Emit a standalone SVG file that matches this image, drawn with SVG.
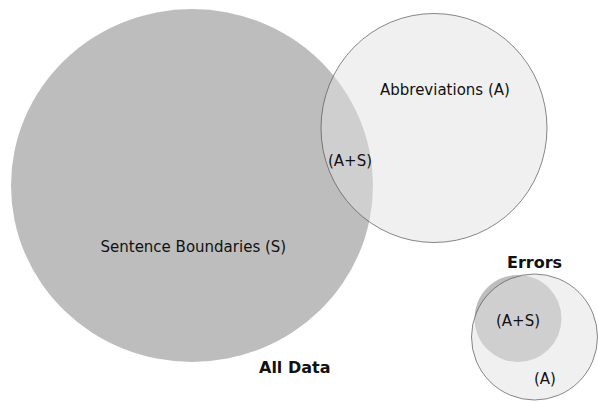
<svg xmlns="http://www.w3.org/2000/svg" width="598" height="402" viewBox="0 0 598 402">
  <style>
    .set-s { fill: #bdbdbd; }
    .set-a { fill: #e2e2e2; fill-opacity: 0.5; stroke: #555; stroke-opacity: 0.7; stroke-width: 1; }
    .set-err { fill: #bdbdbd; }
    .lbl { font-family: "DejaVu Sans", Verdana, sans-serif; font-size: 15px; fill: #111; }
    .title { font-family: "DejaVu Sans", Verdana, sans-serif; font-size: 16px; font-weight: bold; fill: #111; }
  </style>
  <rect width="598" height="402" fill="#ffffff"/>

  <!-- All data: sentence boundaries overlapping abbreviations -->
  <g id="sentence-boundaries">
    <ellipse class="set-s" cx="192" cy="185.5" rx="181" ry="176.5"/>
    <text class="lbl" x="100.5" y="252">Sentence Boundaries (S)</text>
  </g>
  <g id="abbreviations">
    <ellipse class="set-a" cx="434" cy="128" rx="113" ry="114.5"/>
    <text class="lbl" x="380" y="95">Abbreviations (A)</text>
  </g>
  <g id="overlap-all">
    <text class="lbl" x="328" y="165.5">(A+S)</text>
  </g>
  <g id="all-data-title">
    <text class="title" x="259" y="373">All Data</text>
  </g>

  <!-- Errors: A+S subset inside abbreviations -->
  <g id="errors-overlap">
    <circle class="set-err" cx="518" cy="318.5" r="43.5"/>
  </g>
  <g id="errors-abbreviations">
    <circle class="set-a" cx="534.5" cy="337" r="63"/>
    <text class="lbl" x="496" y="325.5">(A+S)</text>
    <text class="lbl" x="534" y="384">(A)</text>
  </g>
  <g id="errors-title">
    <text class="title" x="507" y="268">Errors</text>
  </g>

  <g id="connectors"/>
</svg>
